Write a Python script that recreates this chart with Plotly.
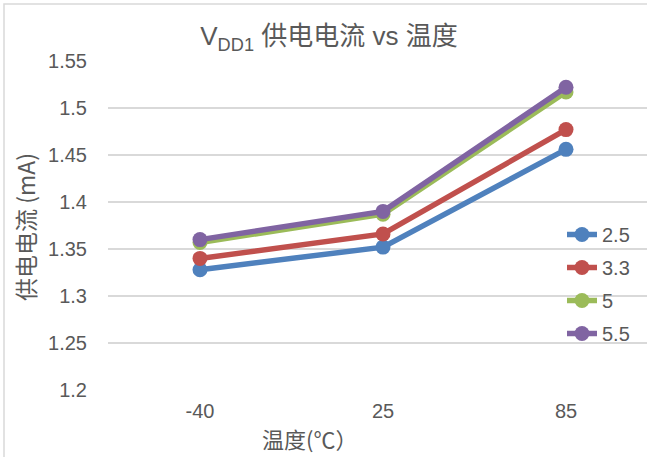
import plotly.graph_objects as go

categories = ["-40", "25", "85"]
series_names = ["2.5", "3.3", "5", "5.5"]
s_25 = [1.328, 1.352, 1.456]
s_33 = [1.340, 1.366, 1.477]
s_5 = [1.357, 1.387, 1.517]
s_55 = [1.360, 1.390, 1.522]
colors = ["#4f81bd", "#c0504d", "#9bbb59", "#8064a2"]
y_ticks = [1.2, 1.25, 1.3, 1.35, 1.4, 1.45, 1.5, 1.55]
y_ticktext = ["1.2", "1.25", "1.3", "1.35", "1.4", "1.45", "1.5", "1.55"]

W, H = 647, 457
ML, MR, MT, MB = 108, 0, 61, 67
pw = W - ML - MR
ph = H - MT - MB

def px2paper_x(px):
    return (px - ML) / pw

def px2paper_y(py):
    return (H - MB - py) / ph

FONT = "Liberation Sans, Arial, Noto Sans CJK SC"
CJK = "Noto Sans CJK SC, Liberation Sans, sans-serif"
TXT = "#595959"
TICK = 20

fig = go.Figure()
for i, (name, vals) in enumerate(zip(series_names, [s_25, s_33, s_5, s_55])):
    fig.add_trace(go.Scatter(
        x=categories, y=vals, name=name, mode="lines+markers",
        line=dict(color=colors[i], width=5.5),
        marker=dict(color=colors[i], size=15),
        legendgroup=name,
    ))

cat0_px, cat_step = 200, 183
fig.update_layout(
    width=W, height=H,
    margin=dict(l=ML, r=MR, t=MT, b=MB),
    paper_bgcolor="white", plot_bgcolor="white",
    font=dict(family=FONT, size=TICK, color=TXT),
    title=dict(
        text="V<sub>DD1</sub> <span style='font-family:Noto Sans CJK SC'>供电电流</span> vs <span style='font-family:Noto Sans CJK SC'>温度</span>",
        x=329 / W, xanchor="center", xref="container",
        y=1 - 36 / H, yanchor="middle", yref="container",
        font=dict(size=26, color=TXT, family=FONT),
    ),
    xaxis=dict(
        type="category",
        range=[(ML - cat0_px) / cat_step, (W - MR - cat0_px) / cat_step],
        showgrid=False, zeroline=False, showline=False, ticks="",
        tickfont=dict(size=TICK, color=TXT, family=FONT),
        ticklabelstandoff=7,
    ),
    yaxis=dict(
        range=[1.2, 1.55], tickvals=y_ticks, ticktext=y_ticktext,
        showgrid=True, gridcolor="#d9d9d9", gridwidth=1.5,
        zeroline=False, showline=False, ticks="",
        tickfont=dict(size=TICK, color=TXT, family=FONT),
        ticklabelstandoff=20,
    ),
    showlegend=True,
    legend=dict(
        x=px2paper_x(562), xanchor="left",
        y=px2paper_y(215), yanchor="top",
        font=dict(size=TICK, color=TXT, family=FONT),
        tracegroupgap=4, bgcolor="rgba(0,0,0,0)",
    ),
)

# axis titles
fig.add_annotation(
    text="温度(℃）", xref="paper", yref="paper",
    x=px2paper_x(309), y=px2paper_y(438), xanchor="center", yanchor="middle",
    showarrow=False, font=dict(size=22, color=TXT, family=CJK),
)
fig.add_annotation(
    text="供电电流 (mA)", xref="paper", yref="paper",
    x=px2paper_x(25), y=px2paper_y(227), xanchor="center", yanchor="middle",
    textangle=-90, showarrow=False, font=dict(size=23, color=TXT, family=CJK),
)
# chart area border
fig.add_shape(
    type="rect", xref="paper", yref="paper",
    x0=px2paper_x(4), x1=px2paper_x(700), y0=px2paper_y(500), y1=px2paper_y(4),
    line=dict(color="#d9d9d9", width=1.5), fillcolor="rgba(0,0,0,0)", layer="below",
)

fig.write_html(
    "out.html",
    config={"displayModeBar": False},
    post_script="document.body.style.margin='0';document.body.style.overflow='hidden';",
)
